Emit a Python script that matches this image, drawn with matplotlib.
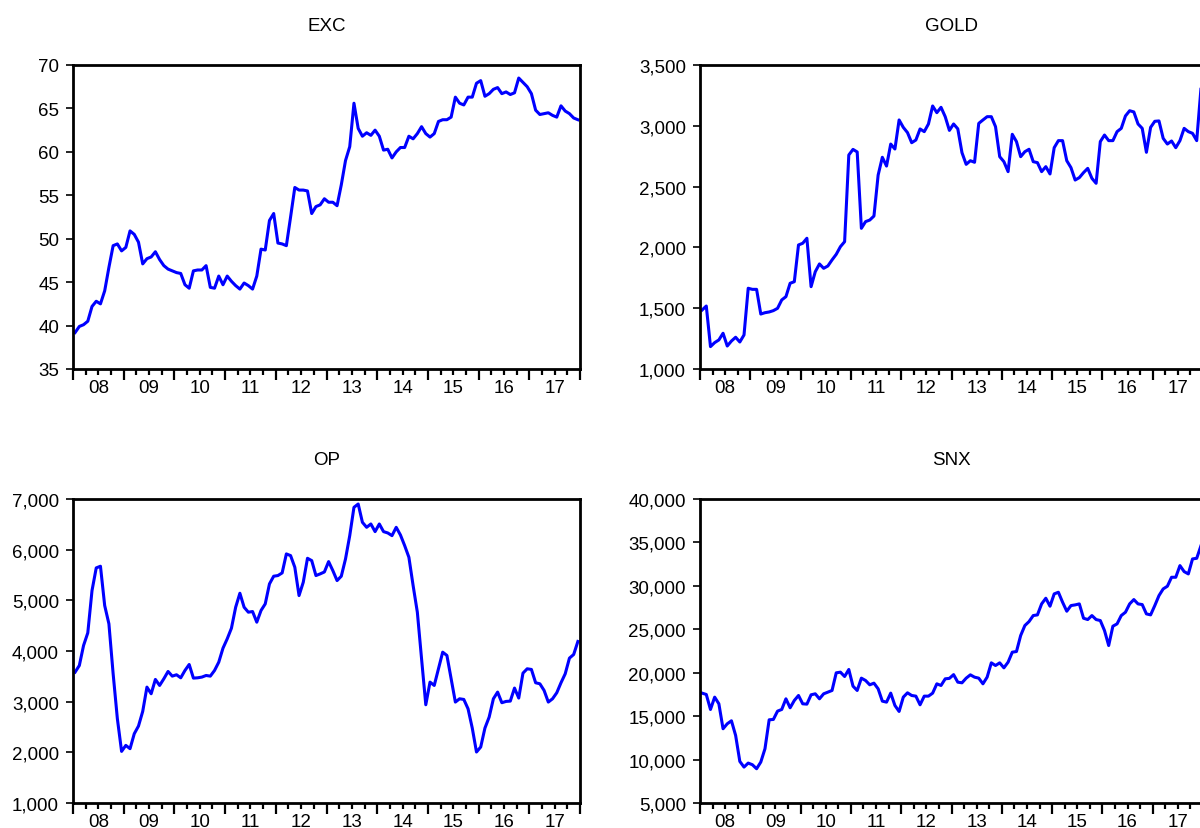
import numpy as np
import matplotlib.pyplot as plt
import matplotlib.transforms as mtransforms
from matplotlib.ticker import FuncFormatter

plt.rcParams["font.family"] = ["Liberation Sans", "DejaVu Sans"]

# monthly data, 2008M01 - 2017M12
year_labels = ["08", "09", "10", "11", "12", "13", "14", "15", "16", "17"]

exc = [
    39.2, 39.9, 40.1, 40.5, 42.2, 42.8, 42.5, 44.0, 46.7, 49.2, 49.4, 48.6,
    49.0, 50.9, 50.5, 49.6, 47.1, 47.7, 47.9, 48.5, 47.6, 46.9, 46.5, 46.3,
    46.1, 46.0, 44.7, 44.3, 46.3, 46.4, 46.4, 46.9, 44.4, 44.3, 45.7, 44.7,
    45.7, 45.1, 44.6, 44.2, 44.9, 44.6, 44.2, 45.7, 48.8, 48.7, 52.1, 52.9,
    49.5, 49.4, 49.2, 52.5, 55.9, 55.6, 55.6, 55.5, 52.9, 53.7, 53.9, 54.6,
    54.2, 54.2, 53.8, 56.2, 59.0, 60.6, 65.6, 62.7, 61.8, 62.2, 61.9, 62.5,
    61.8, 60.2, 60.3, 59.3, 60.0, 60.5, 60.5, 61.8, 61.5, 62.1, 62.9, 62.1,
    61.7, 62.1, 63.5, 63.7, 63.7, 64.0, 66.3, 65.6, 65.4, 66.3, 66.3, 67.9,
    68.2, 66.4, 66.7, 67.2, 67.4, 66.7, 66.9, 66.6, 66.8, 68.5, 68.0, 67.5,
    66.7, 64.8, 64.3, 64.4, 64.5, 64.2, 64.0, 65.3, 64.7, 64.4, 63.9, 63.7,
]

gold = [
    1485, 1518, 1184, 1217, 1239, 1294, 1189, 1230, 1261, 1222, 1280, 1664,
    1655, 1655, 1452, 1463, 1469, 1480, 1499, 1568, 1595, 1705, 1718, 2020,
    2034, 2075, 1677, 1800, 1864, 1828, 1847, 1897, 1943, 2006, 2047, 2760,
    2806, 2785, 2157, 2212, 2225, 2258, 2595, 2741, 2669, 2850, 2809, 3048,
    2987, 2944, 2861, 2883, 2974, 2952, 3015, 3163, 3108, 3152, 3075, 2962,
    3015, 2975, 2779, 2683, 2713, 2700, 3020, 3048, 3075, 3075, 2993, 2746,
    2705, 2623, 2930, 2870, 2746, 2787, 2807, 2705, 2697, 2623, 2664, 2604,
    2820, 2878, 2878, 2713, 2656, 2554, 2574, 2615, 2650, 2568, 2527, 2870,
    2924, 2878, 2878, 2952, 2979, 3081, 3124, 3114, 3015, 2979, 2782, 2987,
    3037, 3040, 2897, 2850, 2875, 2820, 2878, 2979, 2952, 2938, 2878, 3300,
]

op = [
    3583, 3714, 4109, 4358, 5193, 5640, 5673, 4897, 4536, 3550, 2663, 2019,
    2137, 2072, 2367, 2519, 2808, 3287, 3156, 3439, 3320, 3452, 3596, 3504,
    3531, 3471, 3616, 3734, 3465, 3471, 3485, 3517, 3504, 3616, 3780, 4056,
    4240, 4450, 4864, 5140, 4864, 4766, 4779, 4569, 4799, 4930, 5324, 5476,
    5489, 5541, 5916, 5883, 5653, 5094, 5357, 5830, 5784, 5489, 5522, 5560,
    5765, 5587, 5390, 5476, 5817, 6277, 6836, 6901, 6540, 6441, 6507, 6356,
    6507, 6356, 6330, 6277, 6441, 6290, 6080, 5850, 5292, 4766, 3846, 2939,
    3386, 3320, 3649, 3977, 3912, 3452, 2992, 3057, 3044, 2860, 2479, 2006,
    2105, 2479, 2696, 3057, 3189, 2979, 3005, 3011, 3268, 3071, 3563, 3649,
    3636, 3373, 3353, 3222, 2992, 3057, 3176, 3373, 3550, 3859, 3931, 4188,
]

snx = [
    17648, 17495, 15769, 17188, 16421, 13545, 14120, 14466, 12779, 9788, 9136, 9596,
    9405, 8945, 9711, 11245, 14580, 14619, 15577, 15769, 16996, 15961, 16804, 17379,
    16421, 16382, 17456, 17571, 16996, 17571, 17763, 17955, 19987, 20063, 19565, 20370,
    18453, 17955, 19373, 19105, 18607, 18798, 18146, 16727, 16612, 17648, 16229, 15539,
    17188, 17686, 17379, 17303, 16306, 17303, 17303, 17648, 18721, 18530, 19296, 19350,
    19780, 18913, 18837, 19373, 19756, 19488, 19373, 18721, 19488, 21137, 20830, 21137,
    20562, 21213, 22364, 22440, 24281, 25431, 25891, 26581, 26658, 27923, 28575, 27655,
    29074, 29265, 28115, 27080, 27731, 27808, 27923, 26274, 26121, 26581, 26121, 26006,
    24856, 23130, 25354, 25623, 26581, 26964, 27923, 28421, 27923, 27846, 26773, 26658,
    27731, 28881, 29648, 29955, 30990, 30990, 32332, 31642, 31374, 33099, 33175, 34600,
]

t = 2008 + (np.arange(120) + 0.5) / 12

W, H = 1200, 829
fig = plt.figure(figsize=(12, 8.29), dpi=100)


def panel(left, top, width, height, title, values, ymin, ymax, step, comma):
    ax = fig.add_axes([left / W, 1 - (top + height) / H, width / W, height / H])
    ax.plot(t, values, color="#0000ff", lw=2.2, solid_joinstyle="round")
    ax.set_xlim(2008, 2018)
    ax.set_ylim(ymin, ymax)
    ax.set_yticks(np.arange(ymin, ymax + step, step))
    if comma:
        ax.yaxis.set_major_formatter(FuncFormatter(lambda v, p: f"{v:,.0f}"))
    else:
        ax.yaxis.set_major_formatter(FuncFormatter(lambda v, p: f"{v:.0f}"))
    ax.set_xticks(np.arange(2008, 2019))
    ax.set_xticklabels([])
    ax.set_xticks([y + q / 4 for y in range(2008, 2018) for q in (1, 2, 3)], minor=True)
    ax.tick_params(axis="x", which="major", length=8, width=1.6, direction="out")
    ax.tick_params(axis="x", which="minor", length=4.5, width=1.6, direction="out")
    ax.tick_params(axis="y", which="major", length=5, width=1.2, direction="out",
                   labelsize=13.5, pad=5)
    for s in ax.spines.values():
        s.set_linewidth(2.0)
    ax.set_title(title, fontsize=13.5, pad=25)
    trans = mtransforms.blended_transform_factory(ax.transData, ax.transAxes)
    trans = trans + mtransforms.ScaledTranslation(0, -7 / 72, fig.dpi_scale_trans)
    for k, lab in enumerate(year_labels):
        ax.text(2008.5 + k, 0, lab, transform=trans, ha="center", va="top",
                fontsize=13.5, clip_on=False)
    return ax


panel(73, 66, 507, 304, "EXC", exc, 35, 70, 5, False)
panel(700, 66, 503, 304, "GOLD", gold, 1000, 3500, 500, True)
panel(73, 500, 507, 304, "OP", op, 1000, 7000, 1000, True)
panel(700, 500, 503, 304, "SNX", snx, 5000, 40000, 5000, True)

fig.savefig("out.png", dpi=100)
